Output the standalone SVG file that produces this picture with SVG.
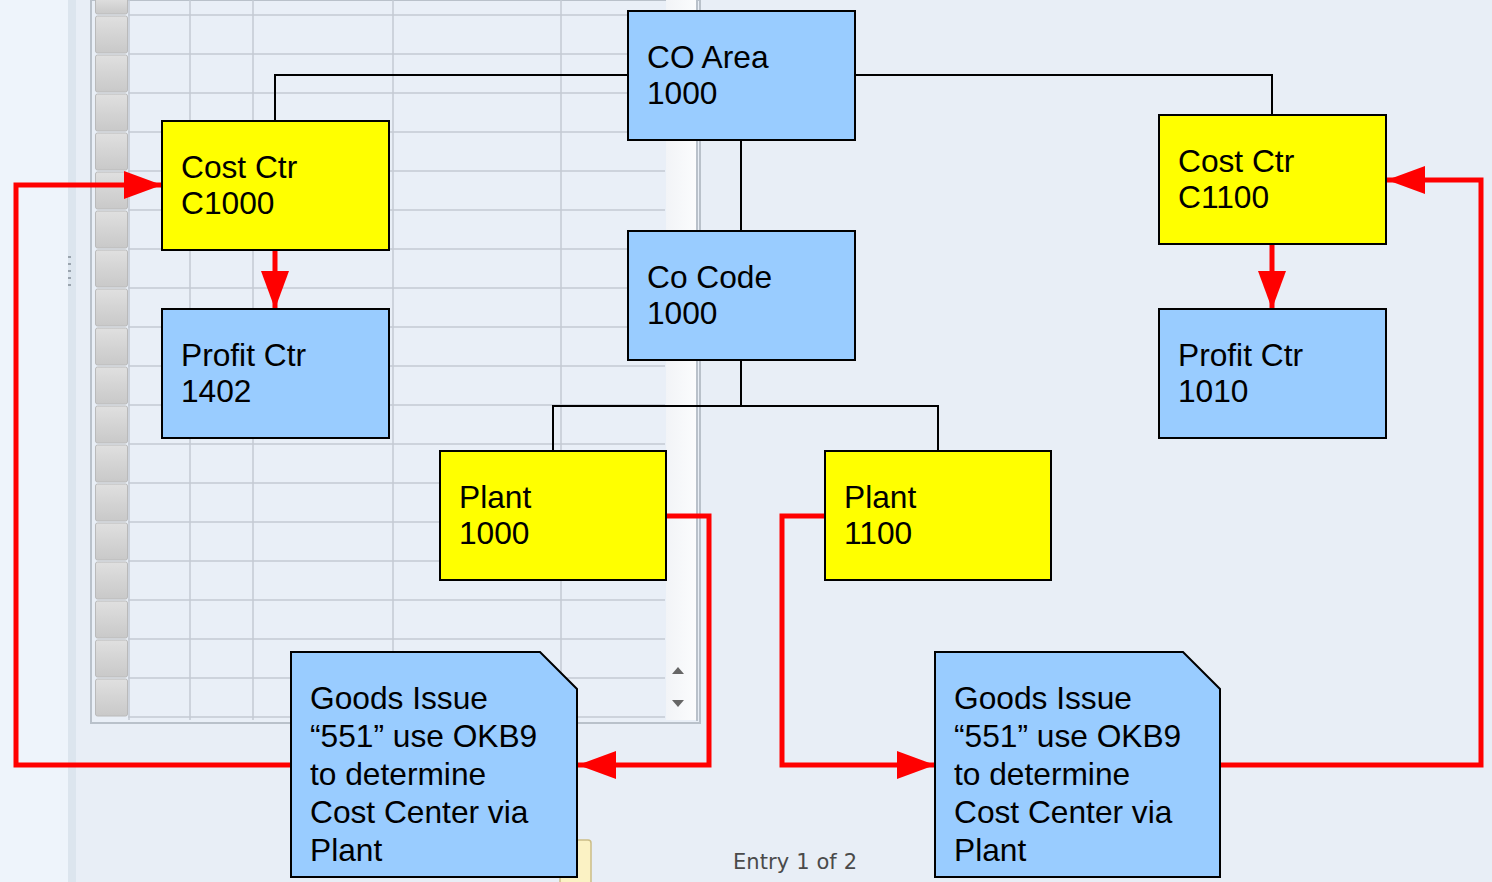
<svg xmlns="http://www.w3.org/2000/svg" width="1492" height="882" viewBox="0 0 1492 882">
<defs>
<linearGradient id="btn" x1="0" y1="0" x2="0" y2="1">
<stop offset="0" stop-color="#e0e0e0"/>
<stop offset="0.5" stop-color="#d4d4d4"/>
<stop offset="1" stop-color="#c9c9c9"/>
</linearGradient>
<linearGradient id="track" x1="0" y1="0" x2="1" y2="0">
<stop offset="0" stop-color="#f2f4f7"/>
<stop offset="1" stop-color="#fbfcfd"/>
</linearGradient>
<marker id="ah" viewBox="0 0 38 28" refX="38" refY="14" markerWidth="38" markerHeight="28" markerUnits="userSpaceOnUse" orient="auto">
<path d="M0,0 L38,14 L0,28 Z" fill="#ff0000"/>
</marker>
</defs>
<style>
.box{stroke:#000;stroke-width:2}
.blue{fill:#99ccff}
.yel{fill:#ffff00}
.t{font-family:"Liberation Sans",Arial,sans-serif;font-size:31.7px;fill:#000}
.red{fill:none;stroke:#ff0000;stroke-width:5;stroke-linejoin:miter}
.blk{fill:none;stroke:#000;stroke-width:2}
.grid{stroke:#c3cad3;stroke-width:1.5}
</style>
<g id="background">
<rect x="0" y="0" width="1492" height="882" fill="#e8eef6"/>
<rect x="0" y="0" width="68" height="882" fill="#eef4fb"/>
<rect x="68" y="0" width="8" height="882" fill="#dce5ee"/>
<g fill="#9aa4ae"><rect x="68" y="256" width="3" height="2"/><rect x="68" y="263" width="3" height="2"/><rect x="68" y="270" width="3" height="2"/><rect x="68" y="277" width="3" height="2"/><rect x="68" y="284" width="3" height="2"/></g>
<rect x="91" y="0" width="609" height="723" fill="#e9eff7" stroke="#b9c1ca" stroke-width="2"/>
<rect x="666" y="0" width="30" height="720" fill="url(#track)"/>
<line x1="697" y1="0" x2="697" y2="721" stroke="#b9c1ca" stroke-width="2"/>
<g class="grid">
<line x1="128" y1="15" x2="665" y2="15"/><line x1="128" y1="54" x2="665" y2="54"/><line x1="128" y1="93" x2="665" y2="93"/><line x1="128" y1="132" x2="665" y2="132"/><line x1="128" y1="171" x2="665" y2="171"/><line x1="128" y1="210" x2="665" y2="210"/><line x1="128" y1="249" x2="665" y2="249"/><line x1="128" y1="288" x2="665" y2="288"/><line x1="128" y1="327" x2="665" y2="327"/><line x1="128" y1="366" x2="665" y2="366"/><line x1="128" y1="405" x2="665" y2="405"/><line x1="128" y1="444" x2="665" y2="444"/><line x1="128" y1="483" x2="665" y2="483"/><line x1="128" y1="522" x2="665" y2="522"/><line x1="128" y1="561" x2="665" y2="561"/><line x1="128" y1="600" x2="665" y2="600"/><line x1="128" y1="639" x2="665" y2="639"/><line x1="128" y1="678" x2="665" y2="678"/><line x1="128" y1="717" x2="665" y2="717"/>
<line x1="129" y1="0" x2="129" y2="720"/><line x1="190" y1="0" x2="190" y2="720"/><line x1="253" y1="0" x2="253" y2="720"/><line x1="393" y1="0" x2="393" y2="720"/><line x1="561" y1="0" x2="561" y2="720"/>
</g>
<g fill="url(#btn)" stroke="#bababa" stroke-width="1">
<rect x="95.5" y="-2" width="32" height="16" rx="2"/><rect x="95.5" y="16" width="32" height="37" rx="2"/><rect x="95.5" y="55" width="32" height="37" rx="2"/><rect x="95.5" y="94" width="32" height="37" rx="2"/><rect x="95.5" y="133" width="32" height="37" rx="2"/><rect x="95.5" y="172" width="32" height="37" rx="2"/><rect x="95.5" y="211" width="32" height="37" rx="2"/><rect x="95.5" y="250" width="32" height="37" rx="2"/><rect x="95.5" y="289" width="32" height="37" rx="2"/><rect x="95.5" y="328" width="32" height="37" rx="2"/><rect x="95.5" y="367" width="32" height="37" rx="2"/><rect x="95.5" y="406" width="32" height="37" rx="2"/><rect x="95.5" y="445" width="32" height="37" rx="2"/><rect x="95.5" y="484" width="32" height="37" rx="2"/><rect x="95.5" y="523" width="32" height="37" rx="2"/><rect x="95.5" y="562" width="32" height="37" rx="2"/><rect x="95.5" y="601" width="32" height="37" rx="2"/><rect x="95.5" y="640" width="32" height="37" rx="2"/><rect x="95.5" y="679" width="32" height="37" rx="2"/>
</g>
<path d="M672,674 L678,667 L684,674 Z" fill="#666"/>
<path d="M672,700 L684,700 L678,707 Z" fill="#666"/>
<rect x="560" y="840" width="31" height="46" rx="3" fill="#fbf2c4" stroke="#cbbd86" stroke-width="1.5"/>
<text x="733" y="869" style="font-family:'DejaVu Sans',sans-serif;font-size:21px;fill:#4a4a4a" textLength="124">Entry 1 of 2</text>
</g>
<g id="connectors">
<path class="blk" d="M628,75 H275 V121"/>
<path class="blk" d="M855,75 H1272 V115"/>
<path class="blk" d="M741,140 V231"/>
<path class="blk" d="M741,360 V406 M553,451 V406 H938 V451"/>
<path class="red" d="M291,765 H16 V185 H162" marker-end="url(#ah)"/>
<path class="red" d="M275,250 V309" marker-end="url(#ah)"/>
<path class="red" d="M666,516 H709 V765 H578" marker-end="url(#ah)"/>
<path class="red" d="M825,516 H782 V765 H935" marker-end="url(#ah)"/>
<path class="red" d="M1220,765 H1481 V180 H1387" marker-end="url(#ah)"/>
<path class="red" d="M1272,244 V309" marker-end="url(#ah)"/>
</g>
<g id="co-area"><rect class="box blue" x="628" y="11" width="227" height="129"/><text class="t" x="647" y="68">CO Area</text><text class="t" x="647" y="104">1000</text></g>
<g id="cost-ctr-c1000"><rect class="box yel" x="162" y="121" width="227" height="129"/><text class="t" x="181" y="178">Cost Ctr</text><text class="t" x="181" y="214">C1000</text></g>
<g id="profit-ctr-1402"><rect class="box blue" x="162" y="309" width="227" height="129"/><text class="t" x="181" y="366">Profit Ctr</text><text class="t" x="181" y="402">1402</text></g>
<g id="co-code-1000"><rect class="box blue" x="628" y="231" width="227" height="129"/><text class="t" x="647" y="288">Co Code</text><text class="t" x="647" y="324">1000</text></g>
<g id="cost-ctr-c1100"><rect class="box yel" x="1159" y="115" width="227" height="129"/><text class="t" x="1178" y="172">Cost Ctr</text><text class="t" x="1178" y="208">C1100</text></g>
<g id="profit-ctr-1010"><rect class="box blue" x="1159" y="309" width="227" height="129"/><text class="t" x="1178" y="366">Profit Ctr</text><text class="t" x="1178" y="402">1010</text></g>
<g id="plant-1000"><rect class="box yel" x="440" y="451" width="226" height="129"/><text class="t" x="459" y="508">Plant</text><text class="t" x="459" y="544">1000</text></g>
<g id="plant-1100"><rect class="box yel" x="825" y="451" width="226" height="129"/><text class="t" x="844" y="508">Plant</text><text class="t" x="844" y="544">1100</text></g>
<g id="goods-issue-1"><path class="box blue" d="M291,652 H540 L577,689 V877 H291 Z"/>
<text class="t" x="310" y="709">Goods Issue</text><text class="t" x="310" y="747">“551” use OKB9</text><text class="t" x="310" y="785">to determine</text><text class="t" x="310" y="823">Cost Center via</text><text class="t" x="310" y="861">Plant</text></g>
<g id="goods-issue-2"><path class="box blue" d="M935,652 H1183 L1220,689 V877 H935 Z"/>
<text class="t" x="954" y="709">Goods Issue</text><text class="t" x="954" y="747">“551” use OKB9</text><text class="t" x="954" y="785">to determine</text><text class="t" x="954" y="823">Cost Center via</text><text class="t" x="954" y="861">Plant</text></g>
</svg>
